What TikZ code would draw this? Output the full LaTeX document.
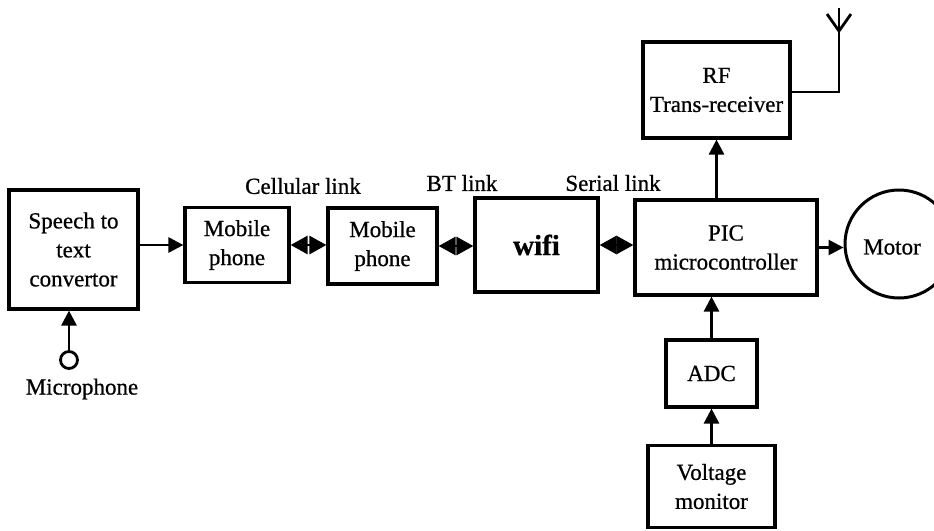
\documentclass[tikz,border=0pt]{standalone}
\usepackage{fontspec}
\setmainfont{Liberation Serif}[FakeBold=0.7]
\usetikzlibrary{arrows.meta}
\begin{document}
\begin{tikzpicture}[x=1pt,y=-1pt,
  blk/.style={draw,line width=3.2pt,rectangle,align=center,inner sep=0pt,
    font=\fontsize{23}{29}\selectfont},
  lbl/.style={font=\fontsize{23}{29}\selectfont,inner sep=0pt},
  arr/.style={line width=2.8pt,-{Triangle[length=15pt,width=15pt]}},
  darr/.style={line width=2.8pt,{Triangle[length=17pt,width=18pt]}-{Triangle[length=17pt,width=18pt]}},
  wire/.style={line width=2.8pt}]
\useasboundingbox (0,0) rectangle (934,530);
% blocks
\node[blk,minimum width=129pt,minimum height=119pt] (speech) at (73.5,249.5) {Speech to\\text\\convertor};
\node[blk,minimum width=104pt,minimum height=75pt] (mob1) at (237,245) {Mobile\\phone};
\node[blk,minimum width=109pt,minimum height=76pt] (mob2) at (382.5,246) {Mobile\\phone};
\node[blk,minimum width=123pt,minimum height=94pt,font=\fontsize{29}{34}\selectfont\bfseries] (wifi) at (536.5,245) {wifi};
\node[blk,minimum width=182pt,minimum height=95pt] (pic) at (726,247.5) {PIC\\microcontroller};
\node[blk,minimum width=147pt,minimum height=96pt] (rf) at (716.5,90) {RF\\Trans-receiver};
\node[blk,minimum width=91pt,minimum height=67pt] (adc) at (711.5,373.5) {ADC};
\node[blk,minimum width=127pt,minimum height=82pt] (volt) at (711.5,486.5) {Voltage\\monitor};
\node[draw,circle,line width=3pt,minimum size=108pt,inner sep=0pt] (motor) at (899,244) {};
\node[lbl] (motortxt) at (892,247) {Motor};
\node[draw,circle,line width=2.8pt,minimum size=17pt,inner sep=0pt] (mic) at (69,360) {};
% labels
\node[lbl] (micl) at (82,389) {Microphone};
\node[lbl] (cell) at (303,186) {Cellular link};
\node[lbl] (bt) at (462,183) {BT link};
\node[lbl] (serial) at (613,183) {Serial link};
% antenna
\coordinate (antbase) at (839,92);
\coordinate (antjoin) at (839,31);
\coordinate (anttop) at (839,8);
\coordinate (antl) at (827,14);
\coordinate (antr) at (851,14);
% connectors
\draw[arr] (speech.east |- mob1.west) -- (mob1.west);
\draw[darr] (mob1.east) -- (mob1.east -| mob2.west);
\draw[darr] (mob2.east) -- (mob2.east -| wifi.west);
\draw[darr] (wifi.east) -- (wifi.east -| pic.west);
\draw[arr] (pic.east) -- (pic.east -| motor.west);
\draw[arr] (rf.south |- pic.north) -- (rf.south);
\draw[arr] (adc.north) -- (adc.north |- pic.south);
\draw[arr] (volt.north) -- (adc.south);
\draw[arr] (mic.north) -- (mic.north |- speech.south);
\draw[wire] (rf.east |- antbase) -- (antbase) -- (anttop);
\draw[wire] (antl) -- (antjoin) -- (antr);
\end{tikzpicture}
\end{document}
